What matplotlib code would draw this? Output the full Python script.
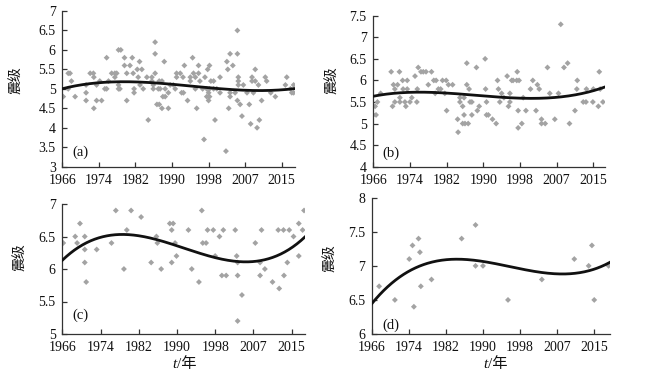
import numpy as np
import matplotlib
matplotlib.use('Agg')
import matplotlib.pyplot as plt
from matplotlib.ticker import FixedLocator, FuncFormatter

plt.rcParams['font.family'] = ['Liberation Serif', 'Noto Sans CJK SC']

# ---------------- data ----------------
tick_pos = [1966, 1974, 1982, 1990, 1998, 2006, 2014]
tick_labels = ['1966', '1974', '1982', '1990', '1998', '2007', '2015']
trend_x = [1966, 1974, 1982, 1990, 1998, 2006, 2014, 2016.8]

a_year = [1966.2, 1967.3, 1967.7, 1967.3, 1968.0, 1968.8, 1971.2, 1971.2, 1971.2, 1972.1,
          1972.8, 1972.9, 1972.9, 1973.5, 1973.5, 1974.6, 1974.2, 1975.3, 1975.7, 1975.7,
          1976.1, 1976.8, 1977.5, 1977.9, 1977.5, 1978.3, 1978.3, 1978.6, 1978.3, 1978.8,
          1979.6, 1979.6, 1980.1, 1980.1, 1980.8, 1981.3, 1981.5, 1981.7, 1981.7, 1982.4,
          1982.9, 1982.6, 1983.0, 1983.4, 1983.7, 1984.5, 1984.8, 1985.6, 1985.6, 1986.3,
          1986.3, 1986.3, 1985.9, 1985.9, 1986.7, 1987.2, 1987.8, 1987.0, 1987.4, 1987.2,
          1987.8, 1988.0, 1988.5, 1988.3, 1988.5, 1989.2, 1989.2, 1989.6, 1990.3, 1990.7,
          1991.0, 1991.0, 1991.8, 1992.4, 1992.1, 1992.5, 1992.7, 1993.4, 1994.0, 1994.0,
          1994.5, 1994.7, 1995.1, 1995.1, 1995.4, 1995.8, 1995.8, 1996.1, 1997.0, 1996.7,
          1997.2, 1997.8, 1998.2, 1997.6, 1998.2, 1998.0, 1997.6, 1998.2, 1998.0, 1998.5,
          1999.1, 1999.1, 1999.4, 1999.8, 2000.5, 2000.5, 2001.8, 2002.0, 2002.2, 2002.4,
          2002.7, 2002.7, 2002.7, 2003.3, 2003.8, 2004.3, 2004.3, 2004.5, 2004.5, 2004.5,
          2004.3, 2004.9, 2005.3, 2005.6, 2006.4, 2006.9, 2007.2, 2007.5, 2007.5, 2007.8,
          2008.2, 2008.2, 2008.6, 2008.9, 2009.1, 2009.6, 2010.4, 2010.7, 2011.6, 2012.6,
          2014.8, 2015.1, 2015.9, 2016.2, 2016.6, 2016.6]
a_mag = [4.8, 5.4, 5.4, 5.0, 5.2, 4.8, 5.1, 4.9, 4.7, 5.4,
         5.4, 5.3, 4.5, 5.1, 4.7, 4.7, 5.2, 5.0, 5.0, 5.8,
         5.2, 5.4, 5.4, 5.4, 5.3, 5.1, 5.0, 5.0, 6.0, 6.0,
         5.8, 5.6, 5.4, 4.7, 5.6, 5.8, 5.4, 5.0, 4.9, 5.5,
         5.7, 5.3, 5.1, 5.5, 5.0, 5.3, 4.2, 5.2, 5.3, 6.2,
         5.9, 5.4, 5.0, 5.1, 4.6, 4.6, 4.5, 5.0, 5.0, 5.2,
         5.2, 4.8, 4.8, 5.7, 5.0, 4.5, 4.9, 5.1, 5.1, 5.0,
         5.4, 5.3, 5.4, 5.3, 4.9, 4.9, 5.6, 4.7, 5.3, 5.2,
         5.8, 5.4, 5.3, 5.0, 4.5, 5.4, 5.6, 5.2, 3.7, 5.0,
         5.3, 5.5, 5.6, 5.0, 5.0, 4.9, 4.8, 4.8, 4.7, 5.2,
         5.2, 5.0, 4.2, 5.0, 5.3, 4.9, 3.4, 5.7, 5.5, 4.5,
         5.9, 4.9, 4.8, 5.6, 4.9, 6.5, 5.9, 5.3, 5.2, 5.1,
         4.7, 4.6, 4.3, 5.1, 4.9, 4.6, 4.1, 5.2, 5.3, 4.9,
         5.5, 5.2, 4.0, 5.1, 4.2, 4.7, 5.3, 5.2, 4.9, 4.8,
         5.1, 5.3, 5.0, 4.9, 4.9, 5.1]
a_trend = [5.0, 5.16, 5.19, 5.1, 5.03, 4.97, 4.98, 5.0]

b_year = [1966.0, 1966.4, 1966.6, 1966.9, 1967.6, 1969.9, 1970.2, 1970.4, 1970.7, 1970.7,
          1971.3, 1971.7, 1971.8, 1971.8, 1972.4, 1973.4, 1972.5, 1973.4, 1972.9, 1973.1,
          1974.0, 1974.4, 1975.1, 1975.5, 1975.6, 1975.8, 1976.4, 1976.9, 1977.5, 1978.0,
          1978.7, 1979.2, 1979.7, 1979.5, 1980.2, 1980.7, 1981.1, 1981.9, 1981.6, 1982.0,
          1982.4, 1983.3, 1984.4, 1984.5, 1984.9, 1984.9, 1985.5, 1985.5, 1986.0, 1985.8,
          1985.8, 1986.4, 1986.4, 1986.7, 1986.9, 1987.1, 1987.5, 1987.5, 1988.5, 1988.7,
          1989.1, 1990.4, 1990.5, 1990.7, 1990.7, 1991.1, 1992.0, 1992.8, 1993.1, 1993.3,
          1993.6, 1994.0, 1994.5, 1995.2, 1995.5, 1995.8, 1996.2, 1996.5, 1995.8, 1997.4,
          1997.3, 1997.8, 1997.6, 1997.6, 1998.4, 1998.7, 1999.3, 2000.3, 2000.8, 2001.5,
          2001.8, 2002.2, 2002.7, 2002.7, 2003.5, 2004.0, 2004.5, 2005.6, 2006.4, 2006.9,
          2007.6, 2008.4, 2008.8, 2010.0, 2010.4, 2010.5, 2011.8, 2012.4, 2012.5, 2013.9,
          2014.0, 2015.1, 2015.3, 2015.5, 2016.1]
b_mag = [5.2, 5.4, 5.2, 5.5, 5.7, 6.2, 5.4, 5.9, 5.8, 5.5,
         5.9, 6.2, 5.6, 5.5, 6.0, 6.0, 5.8, 5.8, 5.5, 5.4,
         5.5, 5.6, 6.1, 5.5, 5.8, 6.3, 6.2, 6.2, 6.2, 5.9,
         6.2, 6.0, 6.0, 5.7, 5.8, 5.8, 6.0, 6.0, 5.7, 5.3,
         5.9, 5.9, 5.1, 4.8, 5.6, 5.5, 5.4, 5.0, 5.0, 5.2,
         5.6, 6.4, 5.9, 5.0, 5.8, 5.5, 5.5, 5.2, 6.3, 5.3,
         5.4, 6.5, 5.8, 5.5, 5.2, 5.2, 5.1, 5.0, 6.0, 5.8,
         5.5, 5.7, 5.6, 6.1, 5.4, 5.5, 6.0, 6.0, 5.7, 6.2,
         6.0, 6.0, 5.3, 4.9, 5.0, 5.6, 5.3, 5.8, 6.0, 5.3,
         5.9, 5.8, 5.1, 5.0, 5.0, 6.3, 5.7, 5.1, 5.7, 7.3,
         6.3, 6.4, 5.0, 5.3, 5.8, 6.0, 5.5, 5.5, 5.8, 5.5,
         5.8, 5.4, 6.2, 5.8, 5.5]
b_trend = [5.63, 5.73, 5.71, 5.63, 5.59, 5.61, 5.77, 5.85]

c_year = [1966.2, 1968.7, 1969.1, 1969.7, 1970.7, 1970.7, 1970.7, 1971.0, 1973.2, 1976.3,
          1977.2, 1978.9, 1979.5, 1980.4, 1982.5, 1984.6, 1985.7, 1985.9, 1986.7, 1988.5,
          1989.2, 1988.9, 1988.9, 1989.6, 1989.9, 1992.4, 1993.1, 1994.6, 1995.2, 1995.4,
          1996.1, 1996.4, 1997.6, 1998.0, 1998.9, 1999.4, 2000.3, 1999.7, 2002.2, 2002.5,
          2002.7, 2002.7, 2002.7, 2003.6, 2006.4, 2007.4, 2007.4, 2007.7, 2008.4, 2010.0,
          2011.4, 2011.2, 2012.3, 2012.4, 2013.1, 2013.5, 2014.4, 2015.5, 2015.5, 2016.3,
          2016.6]
c_mag = [6.4, 6.5, 6.4, 6.7, 6.5, 6.3, 6.1, 5.8, 6.3, 6.4,
         6.9, 6.0, 6.6, 6.9, 6.8, 6.1, 6.5, 6.4, 6.0, 6.7,
         6.7, 6.6, 6.1, 6.4, 6.2, 6.6, 6.0, 5.8, 6.9, 6.4,
         6.4, 6.6, 6.6, 6.2, 6.5, 5.9, 5.9, 6.6, 6.6, 6.2,
         6.1, 5.9, 5.2, 5.6, 6.4, 6.1, 5.9, 6.6, 6.0, 5.8,
         5.7, 6.6, 6.6, 5.9, 6.1, 6.6, 6.5, 6.7, 6.2, 6.6,
         6.9]
c_trend = [6.14, 6.47, 6.53, 6.34, 6.19, 6.12, 6.29, 6.52]

d_year = [1967.6, 1971.0, 1974.1, 1974.8, 1975.1, 1976.1, 1976.4, 1976.6, 1978.9, 1985.4,
          1988.4, 1988.4, 1990.0, 1995.4, 2002.7, 2009.7, 2012.8, 2013.5, 2014.0, 2017.1]
d_mag = [6.7, 6.5, 7.1, 7.3, 6.4, 7.4, 7.2, 6.7, 6.8, 7.4,
         7.6, 7.0, 7.0, 6.5, 6.8, 7.1, 7.0, 7.3, 6.5, 7.0]
d_trend = [6.46, 6.88, 7.10, 7.09, 6.96, 6.87, 6.92, 7.06]

# ---------------- figure ----------------
W, H = 647, 378
fig = plt.figure(figsize=(W / 100, H / 100), dpi=100)

def px_axes(left, top, right, bottom):
    return fig.add_axes([left / W, 1 - bottom / H, (right - left) / W, (bottom - top) / H])

panels = [
    dict(box=(62.3, 11.0, 295.0, 166.7), xmax=2016.9, ylim=(3, 7), yticks=np.arange(3, 7.01, 0.5),
         x=a_year, y=a_mag, tr=a_trend, tag='(a)', tagpos=(72, 152), ylab=(16, 80), xlab=None),
    dict(box=(373.3, 15.7, 605.0, 166.7), xmax=2016.55, ylim=(4, 7.5), yticks=np.arange(4, 7.51, 0.5),
         x=b_year, y=b_mag, tr=b_trend, tag='(b)', tagpos=(382, 153), ylab=(332, 80), xlab=None),
    dict(box=(62.3, 204.0, 305.0, 334.0), xmax=2016.8, ylim=(5, 7), yticks=np.arange(5, 7.01, 0.5),
         x=c_year, y=c_mag, tr=c_trend, tag='(c)', tagpos=(72, 315), ylab=(20, 257), xlab=(181, 364)),
    dict(box=(371.7, 197.7, 610.0, 334.0), xmax=2017.4, ylim=(6, 8), yticks=np.arange(6, 8.01, 0.5),
         x=d_year, y=d_mag, tr=d_trend, tag='(d)', tagpos=(382, 325), ylab=(330, 258), xlab=(492, 364)),
]

axis_col = '#333333'
for p in panels:
    ax = px_axes(*p['box'])
    ax.scatter(p['x'], p['y'], marker='D', s=9, color='#a3a3a3', edgecolors='none', zorder=2)
    coef = np.polyfit(trend_x, p['tr'], 3)
    xs = np.linspace(1966, p['xmax'], 300)
    ax.plot(xs, np.polyval(coef, xs), color='#111111', lw=2.0, zorder=3)
    ax.set_xlim(1966, p['xmax'])
    ax.set_ylim(*p['ylim'])
    ax.xaxis.set_major_locator(FixedLocator(tick_pos))
    ax.set_xticklabels(tick_labels)
    ax.yaxis.set_major_locator(FixedLocator(p['yticks']))
    ax.yaxis.set_major_formatter(FuncFormatter(lambda v, pos: '%g' % v))
    for s in ('top', 'right'):
        ax.spines[s].set_visible(False)
    for s in ('left', 'bottom'):
        ax.spines[s].set_color(axis_col)
        ax.spines[s].set_linewidth(0.9)
    ax.tick_params(direction='in', length=3.5, width=0.9, color=axis_col,
                   labelsize=10, labelcolor='#111111')
    ax.tick_params(axis='x', pad=5)
    ax.tick_params(axis='y', pad=4.8)
    ax.patch.set_alpha(0)
    fig.text(p['tagpos'][0] / W, 1 - p['tagpos'][1] / H, p['tag'], fontsize=10.5,
             ha='left', va='center', color='#111111')
    fig.text(p['ylab'][0] / W, 1 - p['ylab'][1] / H, '震级', fontsize=10, rotation=90,
             ha='center', va='center', color='#111111', family=['Noto Sans CJK SC'])
    if p['xlab']:
        cx, cy = p['xlab']
        split = cx - 4
        fig.text(split / W, 1 - cy / H, 't', fontsize=11, style='italic',
                 ha='right', va='center', color='#111111', family=['Liberation Serif'])
        fig.text(split / W, 1 - cy / H, '/年', fontsize=11,
                 ha='left', va='center', color='#111111',
                 family=['Liberation Serif', 'Noto Sans CJK SC'])

fig.savefig('out.png', dpi=100)
